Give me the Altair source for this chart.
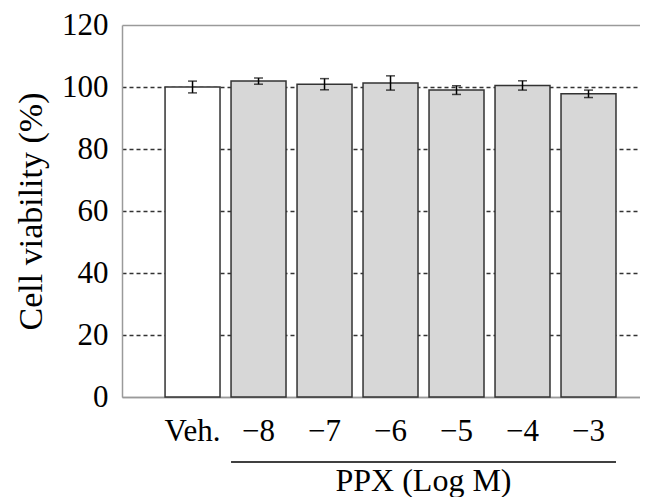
import altair as alt
import pandas as pd

categories = ["Veh.", "−8", "−7", "−6", "−5", "−4", "−3"]
groups = ["veh", "ppx", "ppx", "ppx", "ppx", "ppx", "ppx"]
means = [100.0, 101.9, 100.9, 101.3, 99.0, 100.5, 97.8]
errors = [1.9, 1.0, 1.8, 2.3, 1.4, 1.5, 1.2]
y_ticks = [0, 20, 40, 60, 80, 100, 120]
bracket_start = ["−8"]
bracket_end = ["−3"]

df = pd.DataFrame({"cat": categories, "group": groups, "mean": means, "err": errors})
df["lo"] = df["mean"] - df["err"]
df["hi"] = df["mean"] + df["err"]
bracket = pd.DataFrame({"start": bracket_start, "end": bracket_end})

FONT = "Liberation Serif"
W, H = 518, 372

xscale = alt.Scale(domain=categories, paddingInner=0.167, paddingOuter=0.508, align=0.642)
yscale = alt.Scale(domain=[0, 120], nice=False)

xaxis = alt.Axis(
    labelAngle=0, ticks=False, labelPadding=19, labelFontSize=31, labelFont=FONT,
    title="PPX (Log M)", titleX=301, titleY=93, titleAlign="center", titleFontSize=32,
    titleFont=FONT, titleBaseline="alphabetic", grid=False,
)
yaxis = alt.Axis(
    values=y_ticks, ticks=False, labelPadding=14, labelFontSize=31, labelFont=FONT,
    title="Cell viability (%)", titlePadding=13, titleFontSize=34, titleFont=FONT,
    grid=True,
    gridColor=alt.condition("datum.value == 0 || datum.value == 120", alt.value("#9a9a9a"), alt.value("#333333")),
    gridDash=alt.condition("datum.value == 0 || datum.value == 120", alt.value([]), alt.value([4, 3])),
    gridWidth=1.3,
)

base = alt.Chart(df)
x_enc = alt.X("cat:N", sort=categories, scale=xscale, axis=xaxis)

bars = base.mark_bar(stroke="#333333", strokeWidth=1.5).encode(
    x=x_enc,
    y=alt.Y("mean:Q", scale=yscale, axis=yaxis),
    fill=alt.Fill("group:N", scale=alt.Scale(domain=["veh", "ppx"], range=["#ffffff", "#d7d7d7"]), legend=None),
)

rules = base.mark_rule(color="black", strokeWidth=1.5).encode(
    x=x_enc,
    y=alt.Y("lo:Q", scale=yscale, axis=yaxis),
    y2="hi:Q",
)
caps_lo = base.mark_tick(color="black", orient="horizontal", size=9, thickness=1.5).encode(
    x=x_enc, y=alt.Y("lo:Q", scale=yscale, axis=yaxis)
)
caps_hi = base.mark_tick(color="black", orient="horizontal", size=9, thickness=1.5).encode(
    x=x_enc, y=alt.Y("hi:Q", scale=yscale, axis=yaxis)
)

bracket_line = alt.Chart(bracket).mark_rule(color="black", strokeWidth=1.5).encode(
    x=alt.X("start:N", scale=xscale, axis=xaxis, bandPosition=0),
    x2=alt.X2("end:N", bandPosition=1),
    y=alt.value(H + 65),
)

chart = alt.layer(bars, rules, caps_lo, caps_hi, bracket_line).properties(
    width=W, height=H,
    autosize=alt.AutoSizeParams(type="none"),
    padding={"left": 114, "top": 17, "right": 0, "bottom": 100},
    background="white",
).configure(
    font=FONT,
    style={"guide-label": {"font": FONT}, "guide-title": {"font": FONT}},
).configure_view(stroke=None).configure_axis(
    domainColor="#9a9a9a", domainWidth=1.5,
    labelFont=FONT, labelColor="black",
    titleFont=FONT, titleFontWeight="normal", titleColor="black",
)

chart.save("out.html", embed_options={"renderer": "svg", "actions": False})
